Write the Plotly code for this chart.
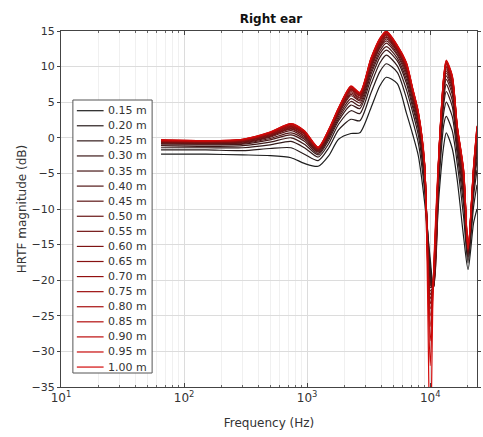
import plotly.graph_objects as go
import math

# ---------------- data ----------------
freqs = [65, 150, 300, 500, 740, 950, 1230, 1500, 1800, 2270, 2680, 3300, 3900, 4400, 5400,
         6400, 7200, 8000, 9000, 10000, 10600, 11800, 12900, 13500, 15100, 16600, 18700, 20300, 22500, 24000]

distances = ["0.15 m", "0.20 m", "0.25 m", "0.30 m", "0.35 m", "0.40 m", "0.45 m", "0.50 m", "0.55 m",
             "0.60 m", "0.65 m", "0.70 m", "0.75 m", "0.80 m", "0.85 m", "0.90 m", "0.95 m", "1.00 m"]

mag_015 = [-2.3, -2.3, -2.4, -2.5, -2.8, -3.6, -4.0, -2.5, -0.2, 0.6, 0.7, 4.2, 7.3, 8.5, 7.6, 3.5, 0.5, -2.5, -9.0, -17.0, -21.0, -8.0, -1.0, 0.7, -1.5, -6.0, -14.0, -18.5, -12.0, -10.0]
mag_020 = [-1.7, -1.7, -1.8, -1.5, -1.4, -2.3, -3.2, -1.4, 1.1, 2.6, 2.4, 6.3, 9.3, 10.4, 9.2, 5.6, 2.4, -0.7, -7.4, -18.0, -21.2, -6.1, 1.9, 3.0, 1.0, -3.7, -11.2, -17.6, -9.7, -6.6]
mag_025 = [-1.4, -1.4, -1.4, -1.0, -0.5, -1.4, -2.7, -0.8, 1.9, 3.8, 3.4, 7.5, 10.5, 11.6, 10.1, 6.8, 3.6, 0.4, -6.4, -18.8, -21.3, -4.9, 3.6, 5.0, 3.0, -2.4, -9.5, -17.1, -8.2, -4.5]
mag_030 = [-1.1, -1.2, -1.1, -0.6, 0.0, -0.9, -2.4, -0.3, 2.4, 4.6, 4.1, 8.3, 11.3, 12.3, 10.8, 7.7, 4.3, 1.2, -5.8, -19.4, -21.3, -4.2, 4.8, 6.5, 4.4, -1.5, -8.4, -16.7, -7.3, -3.1]
mag_035 = [-1.0, -1.0, -0.9, -0.3, 0.4, -0.5, -2.2, 0.0, 2.7, 5.1, 4.5, 8.9, 11.8, 12.8, 11.2, 8.2, 4.8, 1.6, -5.4, -19.8, -21.2, -3.7, 5.5, 7.5, 5.3, -0.9, -7.7, -16.5, -6.7, -2.2]
mag_040 = [-0.8, -0.9, -0.8, -0.1, 0.7, -0.2, -2.0, 0.2, 3.0, 5.5, 4.9, 9.3, 12.2, 13.3, 11.6, 8.7, 5.3, 2.1, -5.0, -20.2, -21.1, -3.2, 6.2, 8.2, 6.1, -0.3, -7.0, -16.3, -6.1, -1.4]
mag_045 = [-0.7, -0.8, -0.7, 0.1, 1.0, 0.0, -1.9, 0.4, 3.3, 5.9, 5.2, 9.7, 12.6, 13.6, 11.8, 9.1, 5.6, 2.4, -4.7, -20.6, -21.0, -2.9, 6.7, 8.7, 6.6, 0.0, -6.6, -16.2, -5.7, -0.8]
mag_050 = [-0.7, -0.7, -0.6, 0.2, 1.2, 0.2, -1.8, 0.6, 3.4, 6.1, 5.4, 10.0, 12.8, 13.9, 12.1, 9.4, 5.9, 2.6, -4.5, -21.0, -20.9, -2.6, 7.1, 9.1, 7.0, 0.3, -6.2, -16.0, -5.4, -0.4]
mag_055 = [-0.6, -0.7, -0.5, 0.3, 1.3, 0.3, -1.7, 0.7, 3.6, 6.3, 5.6, 10.2, 13.0, 14.1, 12.2, 9.6, 6.1, 2.8, -4.3, -21.5, -20.8, -2.4, 7.4, 9.4, 7.3, 0.6, -5.9, -15.9, -5.2, 0.0]
mag_060 = [-0.5, -0.6, -0.5, 0.4, 1.4, 0.5, -1.6, 0.8, 3.7, 6.5, 5.7, 10.4, 13.2, 14.2, 12.4, 9.8, 6.2, 3.0, -4.2, -22.0, -20.7, -2.3, 7.6, 9.7, 7.6, 0.8, -5.6, -15.9, -4.9, 0.3]
mag_065 = [-0.5, -0.6, -0.4, 0.5, 1.5, 0.6, -1.6, 0.9, 3.8, 6.7, 5.9, 10.5, 13.4, 14.4, 12.5, 9.9, 6.4, 3.1, -4.0, -22.6, -20.6, -2.1, 7.9, 9.9, 7.8, 1.0, -5.4, -15.8, -4.8, 0.6]
mag_070 = [-0.5, -0.5, -0.4, 0.6, 1.6, 0.7, -1.5, 0.9, 3.9, 6.8, 6.0, 10.7, 13.5, 14.5, 12.6, 10.1, 6.5, 3.2, -3.9, -23.3, -20.5, -2.0, 8.1, 10.1, 8.0, 1.1, -5.2, -15.7, -4.6, 0.8]
mag_075 = [-0.4, -0.5, -0.3, 0.6, 1.7, 0.7, -1.5, 1.0, 3.9, 6.9, 6.1, 10.8, 13.6, 14.6, 12.7, 10.2, 6.6, 3.3, -3.8, -24.0, -20.4, -1.9, 8.2, 10.3, 8.2, 1.3, -5.1, -15.7, -4.5, 1.0]
mag_080 = [-0.4, -0.5, -0.3, 0.7, 1.8, 0.8, -1.4, 1.0, 4.0, 7.0, 6.2, 10.9, 13.7, 14.7, 12.8, 10.3, 6.7, 3.4, -3.7, -25.0, -20.3, -1.8, 8.4, 10.5, 8.4, 1.4, -4.9, -15.6, -4.4, 1.2]
mag_085 = [-0.4, -0.5, -0.3, 0.7, 1.9, 0.9, -1.4, 1.1, 4.1, 7.1, 6.2, 11.0, 13.8, 14.8, 12.8, 10.4, 6.8, 3.5, -3.7, -26.5, -20.2, -1.7, 8.5, 10.6, 8.5, 1.5, -4.8, -15.6, -4.3, 1.3]
mag_090 = [-0.3, -0.4, -0.2, 0.7, 1.9, 0.9, -1.4, 1.1, 4.1, 7.2, 6.3, 11.1, 13.9, 14.9, 12.9, 10.5, 6.9, 3.6, -3.6, -28.5, -20.1, -1.6, 8.6, 10.7, 8.6, 1.5, -4.7, -15.6, -4.2, 1.5]
mag_095 = [-0.3, -0.4, -0.2, 0.8, 2.0, 1.0, -1.3, 1.2, 4.2, 7.2, 6.3, 11.1, 13.9, 14.9, 13.0, 10.5, 6.9, 3.6, -3.5, -32.0, -20.0, -1.6, 8.7, 10.8, 8.7, 1.6, -4.6, -15.5, -4.1, 1.6]
mag_100 = [-0.3, -0.4, -0.2, 0.8, 2.0, 1.0, -1.3, 1.2, 4.2, 7.3, 6.4, 11.2, 14.0, 15.0, 13.0, 10.6, 7.0, 3.7, -3.5, -45.0, -20.0, -1.5, 8.8, 10.9, 8.8, 1.7, -4.5, -15.5, -4.0, 1.7]

series = [mag_015, mag_020, mag_025, mag_030, mag_035, mag_040, mag_045, mag_050, mag_055,
          mag_060, mag_065, mag_070, mag_075, mag_080, mag_085, mag_090, mag_095, mag_100]

x_tickvals = [10, 100, 1000, 10000]
x_ticktext = ["10<sup>1</sup>", "10<sup>2</sup>", "10<sup>3</sup>", "10<sup>4</sup>"]
y_tickvals = [15, 10, 5, 0, -5, -10, -15, -20, -25, -30, -35]

# ---------------- style ----------------
n = len(distances)
colors = []
for i in range(n):
    t = i / (n - 1)
    r = int(30 + 180 * t)
    g = int(30 * (1 - t)) + int(10 * t)
    colors.append(f"rgb({r},{g},{g})")

FONT = "DejaVu Sans"
TXT = "#333333"

# plot area in pixels
W, H = 483, 437
L, R, T, B = 61, 2, 31, 50
pw, ph = W - L - R, H - T - B

fig = go.Figure()
for lab, ys, c in zip(distances, series, colors):
    fig.add_trace(go.Scatter(x=freqs, y=ys, mode="lines", name=lab,
                             line=dict(color=c, width=1.2, shape="spline", smoothing=0.7),
                             showlegend=False))

minor_vals = [m * 10 ** k for k in range(1, 5) for m in range(2, 10) if m * 10 ** k <= 24000]

fig.update_layout(
    width=W, height=H,
    margin=dict(l=L, r=R, t=T, b=B),
    paper_bgcolor="white", plot_bgcolor="white",
    font=dict(family=FONT, size=11, color=TXT),
    title=dict(text="<b>Right ear</b>", x=(L + pw / 2) / W, xanchor="center",
               y=1 - 19 / H, yanchor="middle", font=dict(size=12, color="#111")),
    xaxis=dict(type="log", range=[1, math.log10(24000)],
               tickvals=x_tickvals, ticktext=x_ticktext,
               ticks="inside", ticklen=4, tickcolor="#444",
               minor=dict(tickvals=minor_vals, ticks="inside", ticklen=2, tickcolor="#666",
                          showgrid=True, gridcolor="#f0f0f0", gridwidth=1),
               showgrid=True, gridcolor="#dcdcdc", gridwidth=1,
               showline=True, linecolor="#444", linewidth=1, mirror="ticks",
               zeroline=False,
               title=dict(text="Frequency (Hz)", font=dict(size=12, color=TXT), standoff=14),
               tickfont=dict(size=12, color=TXT)),
    yaxis=dict(range=[-35, 15], tickvals=y_tickvals,
               ticks="outside", ticklen=3, tickcolor="#444",
               showgrid=True, gridcolor="#dcdcdc", gridwidth=1,
               showline=True, linecolor="#444", linewidth=1, mirror="ticks",
               zeroline=False,
               title=dict(text="HRTF magnitude (dB)", font=dict(size=12, color=TXT), standoff=2),
               tickfont=dict(size=11, color=TXT)),
)

# ---------------- legend (drawn manually to match compact spacing) ----------------
def px_x(x):
    return (x - L) / pw

def px_y(y):
    return (H - B - y) / ph

box = (73, 100, 153, 373)
fig.add_shape(type="rect", xref="paper", yref="paper",
              x0=px_x(box[0]), x1=px_x(box[2]), y0=px_y(box[3]), y1=px_y(box[1]),
              line=dict(color="#555", width=1), fillcolor="white", layer="above")
y0, dy = 110.7, 15.08
for i, (lab, c) in enumerate(zip(distances, colors)):
    yy = y0 + dy * i
    fig.add_shape(type="line", xref="paper", yref="paper",
                  x0=px_x(77), x1=px_x(104), y0=px_y(yy), y1=px_y(yy),
                  line=dict(color=c, width=1.2), layer="above")
    fig.add_annotation(xref="paper", yref="paper", x=px_x(106), y=px_y(yy),
                       text=lab, showarrow=False, xanchor="left", yanchor="middle",
                       font=dict(size=11, color=TXT, family=FONT))

fig.write_html("out.html")
